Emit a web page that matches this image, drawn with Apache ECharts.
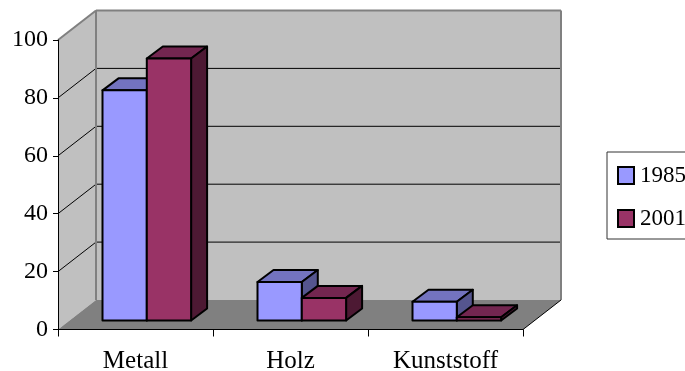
<!DOCTYPE html>
<html>
<head>
<meta charset="utf-8">
<style>html,body{margin:0;padding:0;background:#fff}#chart{width:685px;height:371px}</style>
<script src="https://cdn.jsdelivr.net/npm/echarts@6/dist/echarts.min.js"></script>
</head>
<body>
<div id="chart"></div>
<script>
const categories = ['Metall', 'Holz', 'Kunststoff'];
const values1985 = [79.5, 13.3, 6.5];
const values2001 = [90.5, 7.8, 1.1];
const valueTicks = [0, 20, 40, 60, 80, 100];

// Pseudo-3D projection: pixel shift from the front plane to the back wall,
// to the front face of the bars, and across the depth of one bar.
const WALL_DEPTH = [38, -29.5];
const BAR_PLANE = [11.6, -9];
const BAR_DEPTH = [16, -12];
const BAR_WIDTH_SHARE = 44.3 / 155;

const FONT = '"Liberation Serif", "Times New Roman", serif';
const WALL = '#c0c0c0';
const FLOOR = '#808080';
const EDGE = '#808080';

const shifted = (p, d) => [p[0] + d[0], p[1] + d[1]];

function renderRoom(params, api) {
  const x0 = params.coordSys.x;
  const x1 = x0 + params.coordSys.width;
  const at = (x, v) => [x, api.coord([0, v])[1]];
  const floorA = at(x0, 0), floorB = at(x1, 0);
  const topA = at(x0, 100), topB = at(x1, 100);
  const poly = (points, fill) => ({
    type: 'polygon',
    shape: { points },
    style: { fill, stroke: null }
  });
  const line = (a, b, stroke, lineWidth) => ({
    type: 'line',
    shape: { x1: a[0], y1: a[1], x2: b[0], y2: b[1] },
    style: { stroke, lineWidth }
  });
  const children = [
    poly([shifted(topA, WALL_DEPTH), shifted(topB, WALL_DEPTH), shifted(floorB, WALL_DEPTH), shifted(floorA, WALL_DEPTH)], WALL),
    poly([topA, shifted(topA, WALL_DEPTH), shifted(floorA, WALL_DEPTH), floorA], WALL),
    poly([floorA, shifted(floorA, WALL_DEPTH), shifted(floorB, WALL_DEPTH), floorB], FLOOR)
  ];
  valueTicks.slice(1, -1).forEach(v => {
    const a = at(x0, v), b = at(x1, v);
    children.push(line(a, shifted(a, WALL_DEPTH), '#000', 1));
    children.push(line(shifted(a, WALL_DEPTH), shifted(b, WALL_DEPTH), '#000', 1));
  });
  children.push(line(topA, shifted(topA, WALL_DEPTH), EDGE, 2));
  children.push(line(shifted(topA, WALL_DEPTH), shifted(topB, WALL_DEPTH), EDGE, 2));
  children.push(line(shifted(topA, WALL_DEPTH), shifted(floorA, WALL_DEPTH), EDGE, 2));
  children.push(line(shifted(topB, WALL_DEPTH), shifted(floorB, WALL_DEPTH), EDGE, 2));
  children.push(line(floorB, shifted(floorB, WALL_DEPTH), '#000', 1));
  return { type: 'group', children };
}

// A bar made of front, top and side faces; colours darken away from the front.
function barRenderer(slot, front, top, side) {
  return function (params, api) {
    const cat = api.value(0);
    const base = api.coord([cat, 0]);
    const head = api.coord([cat, api.value(1)]);
    const w = api.size([1, 0])[0] * BAR_WIDTH_SHARE;
    const xl = base[0] + BAR_PLANE[0] + (slot - 1) * w - 0.3;
    const xr = xl + w;
    const yb = base[1] + BAR_PLANE[1];
    const yt = head[1] + BAR_PLANE[1];
    const d = BAR_DEPTH;
    const edge = { stroke: '#000', lineWidth: 2, lineJoin: 'round' };
    const face = (points, fill) => ({
      type: 'polygon',
      shape: { points },
      style: Object.assign({ fill }, edge)
    });
    return {
      type: 'group',
      children: [
        face([[xl, yt], [xl + d[0], yt + d[1]], [xr + d[0], yt + d[1]], [xr, yt]], top),
        face([[xr, yt], [xr + d[0], yt + d[1]], [xr + d[0], yb + d[1]], [xr, yb]], side),
        face([[xl, yt], [xr, yt], [xr, yb], [xl, yb]], front)
      ]
    };
  };
}

const chart = echarts.init(document.getElementById('chart'));
chart.setOption({
  animation: false,
  backgroundColor: '#fff',
  grid: { left: 58, top: 40, width: 465, height: 289.5, outerBoundsMode: 'none' },
  legend: {
    orient: 'vertical',
    left: 607,
    top: 152,
    padding: [12, 12, 9, 10],
    data: ['1985', '2001'],
    icon: 'rect',
    itemWidth: 16,
    itemHeight: 17,
    itemGap: 20,
    borderColor: '#333',
    borderWidth: 1,
    textStyle: { fontFamily: FONT, fontSize: 23, color: '#000', padding: [0, 0, 0, 1] }
  },
  xAxis: {
    type: 'category',
    data: categories,
    z: 6,
    axisLine: { lineStyle: { color: '#000', width: 1 } },
    axisTick: { show: true, length: 7, lineStyle: { color: '#000' } },
    axisLabel: { fontFamily: FONT, fontSize: 25, color: '#000', margin: 19 }
  },
  yAxis: {
    type: 'value',
    min: 0,
    max: 100,
    interval: 20,
    z: 6,
    axisLine: { show: true, lineStyle: { color: '#000', width: 1 } },
    axisTick: { show: true, length: 5, lineStyle: { color: '#000' } },
    splitLine: { show: false },
    axisLabel: { fontFamily: FONT, fontSize: 24, color: '#000', margin: 10 }
  },
  series: [
    {
      type: 'custom',
      name: 'room',
      silent: true,
      z: 1,
      clip: false,
      renderItem: renderRoom,
      data: [[0, 0]],
      encode: { x: 0, y: 1 }
    },
    {
      type: 'custom',
      name: '1985',
      z: 3,
      clip: false,
      itemStyle: { color: '#9999ff', borderColor: '#000', borderWidth: 1.5 },
      renderItem: barRenderer(0, '#9999ff', '#7373bf', '#55558f'),
      data: values1985.map((v, i) => [i, v]),
      encode: { x: 0, y: 1 }
    },
    {
      type: 'custom',
      name: '2001',
      z: 4,
      clip: false,
      itemStyle: { color: '#993366', borderColor: '#000', borderWidth: 1.5 },
      renderItem: barRenderer(1, '#993366', '#732650', '#4d1933'),
      data: values2001.map((v, i) => [i, v]),
      encode: { x: 0, y: 1 }
    }
  ]
});
</script>
</body>
</html>
